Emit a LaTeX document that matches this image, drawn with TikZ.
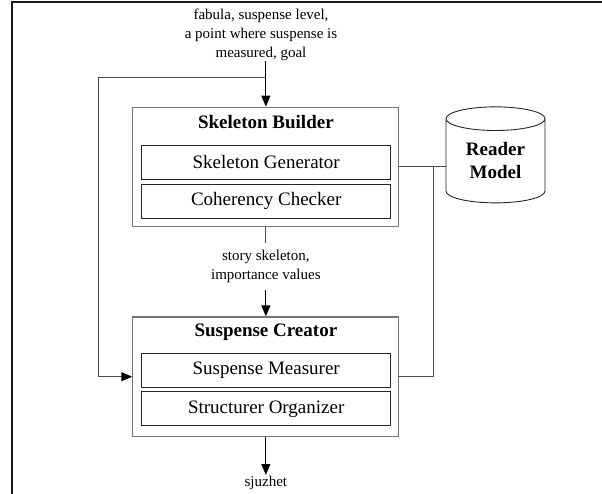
\documentclass[tikz,border=0pt]{standalone}
\usepackage{fontspec}
\setmainfont{Liberation Serif}
\usetikzlibrary{arrows.meta, shapes.geometric}
\definecolor{boxgray}{gray}{0.45}
\definecolor{linegray}{gray}{0.3}
\tikzset{
	outerbox/.style={draw=boxgray, line width=1.2pt, rectangle, minimum width=266pt, minimum height=119.5pt, inner sep=0pt},
	innerbox/.style={draw=black!85, line width=0.9pt, rectangle, minimum width=249pt, minimum height=34pt, inner sep=0pt, font=\fontsize{19}{23}\selectfont},
	boxtitle/.style={inner sep=0pt, font=\bfseries\fontsize{19}{23}\selectfont},
	note/.style={align=center, inner sep=1pt, font=\fontsize{15}{18.7}\selectfont},
	arr/.style={-{Triangle[length=11pt,width=9pt,color=black]}, line width=1pt},
	link/.style={draw=linegray, line width=1pt}
}

\begin{document}
\begin{tikzpicture}[x=1pt, y=-1pt]
			\useasboundingbox (0,0) rectangle (602,494);
			\draw[line width=1.7pt, black!90] (12,494) -- (12,2) -- (602,2);
			
			\node(in) [note] at (261,34.7) {fabula, suspense level,\\a point where suspense is\\measured, goal};
			
			\node(sb) [outerbox] at (265.85,167) {};
			\node(sbt) [boxtitle] at (265.85,122) {Skeleton Builder};
			\node(sg) [innerbox] at (266.2,162.5) {Skeleton Generator};
			\node(cc) [innerbox] at (266.2,201.2) {Coherency Checker};
			
			\node(mid) [note, inner ysep=7pt] at (265.85,266.4) {story skeleton,\\importance values};
			
			\node(sc) [outerbox] at (265.85,376.7) {};
			\node(sct) [boxtitle] at (265.85,332.3) {Suspense Creator};
			\node(sm) [innerbox] at (266.2,370) {Suspense Measurer};
			\node(so) [innerbox] at (266.2,408.9) {Structurer Organizer};
			
			\node(rm) [cylinder, shape border rotate=90, draw=black!85, line width=0.9pt, aspect=0.4, minimum width=99pt, minimum height=96pt, inner sep=0pt, align=center, font=\bfseries\fontsize{19}{23}\selectfont] at (495.5,161) {Reader\\Model};
			
			\node(out) [note] at (265.85,483) {sjuzhet};
			
			\coordinate(split) at (265.85,77.3);
			\coordinate(back) at (98.3,77.3);
			\coordinate(junc) at (433.3,167);
			
			\draw[arr] (in.south -| sb.north) -- (sb.north);
			\draw[link, arr] (split) -- (back) |- (sc.west);
			\draw[link] (sb.south) -- (mid.north);
			\draw[arr] (mid.south) -- (sc.north);
			\draw[arr] (sc.south) -- (out.north);
			\draw[link] (sb.east) -- (sb.east -| rm.west);
			\draw[link] (sc.east) -| (junc);
			
		\end{tikzpicture}
\end{document}
